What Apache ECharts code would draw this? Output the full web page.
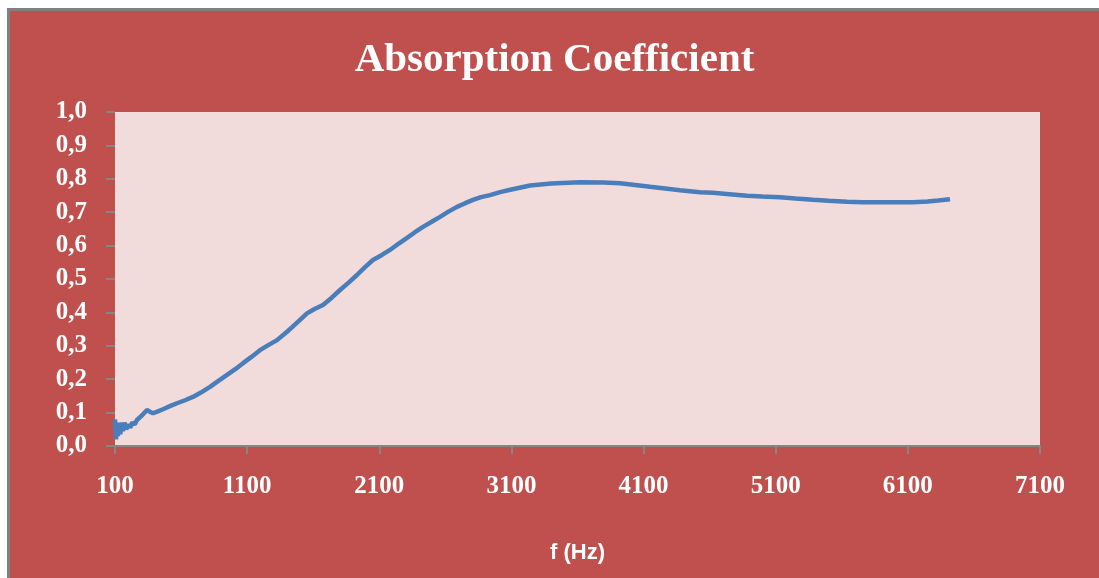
<!DOCTYPE html>
<html>
<head>
  <meta charset="UTF-8">
  <title>Absorption Coefficient</title>
  <script src="https://cdn.jsdelivr.net/npm/echarts/dist/echarts.min.js"></script>
  <style>
    html, body { margin: 0; padding: 0; background: #fff; width: 1099px; height: 578px; overflow: hidden; }
    #frame { position: absolute; left: 7px; top: 8px; border-left: 3px solid #808080; border-top: 3px solid #808080; }
    #chart { width: 1089px; height: 567px; }
  </style>
</head>
<body>
<div id="frame"><div id="chart"></div></div>
<script>
// frequency (Hz) and absorption coefficient
const freq = [100, 108, 115, 122, 130, 140, 150, 160, 172, 185, 200, 215, 230, 250, 266, 300, 342, 365, 388, 420, 463,
  520, 569, 630, 690, 750, 819, 880, 948, 1010, 1069, 1130, 1197, 1260, 1326, 1402, 1424, 1490, 1553, 1610, 1674,
  1740, 1803, 1870, 1931, 1990, 2052, 2120, 2181, 2250, 2310, 2370, 2431, 2500, 2560, 2620, 2688, 2750, 2809,
  2870, 2938, 3014, 3100, 3241, 3400, 3620, 3800, 3922, 4149, 4376, 4527, 4626, 4750, 4883, 5000, 5133, 5250,
  5382, 5500, 5640, 5760, 5889, 6000, 6139, 6250, 6330, 6419];
const alpha = [0.08, 0.02, 0.07, 0.03, 0.065, 0.035, 0.07, 0.045, 0.07, 0.05, 0.065, 0.055, 0.07, 0.065, 0.078, 0.09, 0.108, 0.102, 0.098, 0.103, 0.11,
  0.12, 0.128, 0.137, 0.147, 0.16, 0.177, 0.194, 0.213, 0.23, 0.248, 0.266, 0.287, 0.302, 0.317, 0.342, 0.35, 0.374, 0.397, 0.41, 0.422,
  0.444, 0.467, 0.49, 0.512, 0.535, 0.557, 0.572, 0.587, 0.607, 0.623, 0.64, 0.656, 0.672, 0.686, 0.701, 0.716, 0.727, 0.737,
  0.745, 0.751, 0.76, 0.768, 0.78, 0.786, 0.79, 0.789, 0.787, 0.776, 0.766, 0.76, 0.758, 0.754, 0.749, 0.747, 0.745, 0.741,
  0.737, 0.734, 0.731, 0.73, 0.73, 0.73, 0.73, 0.732, 0.735, 0.739];
const xTicks = [100, 1100, 2100, 3100, 4100, 5100, 6100, 7100];

let chart = echarts.init(document.getElementById('chart'));
chart.setOption({
  backgroundColor: '#C0504D',
  animation: false,
  title: {
    text: 'Absorption Coefficient',
    left: 'center',
    top: 24,
    textStyle: { color: '#fff', fontFamily: 'Liberation Serif', fontWeight: 'bold', fontSize: 41 }
  },
  grid: { left: 105, top: 101, right: 59, bottom: 132, show: true, backgroundColor: '#F2DCDB', borderWidth: 0 },
  xAxis: {
    type: 'value',
    min: xTicks[0],
    max: xTicks[xTicks.length - 1],
    interval: 1000,
    name: 'f (Hz)',
    nameLocation: 'middle',
    nameGap: 96,
    nameTextStyle: { color: '#fff', fontFamily: 'Liberation Sans', fontWeight: 'bold', fontSize: 22 },
    axisLine: { show: true, lineStyle: { color: '#868686', width: 2 } },
    axisTick: { show: true, length: 8, lineStyle: { color: '#868686', width: 2 } },
    axisLabel: { color: '#fff', fontFamily: 'Liberation Serif', fontWeight: 'bold', fontSize: 25, margin: 28,
      formatter: v => String(v) },
    splitLine: { show: false }
  },
  yAxis: {
    type: 'value',
    min: 0,
    max: 1,
    interval: 0.1,
    axisLine: { show: false },
    axisTick: { show: true, length: 9, lineStyle: { color: '#868686', width: 2 } },
    axisLabel: {
      color: '#fff', fontFamily: 'Liberation Serif', fontWeight: 'bold', fontSize: 25, margin: 28,
      formatter: v => v.toFixed(1).replace('.', ',')
    },
    splitLine: { show: false }
  },
  series: [{
    type: 'line',
    data: freq.map((f, i) => [f, alpha[i]]),
    showSymbol: false,
    lineStyle: { color: '#4A7EBB', width: 4.5 },
    itemStyle: { color: '#4A7EBB' }
  }]
});
</script>
</body>
</html>
